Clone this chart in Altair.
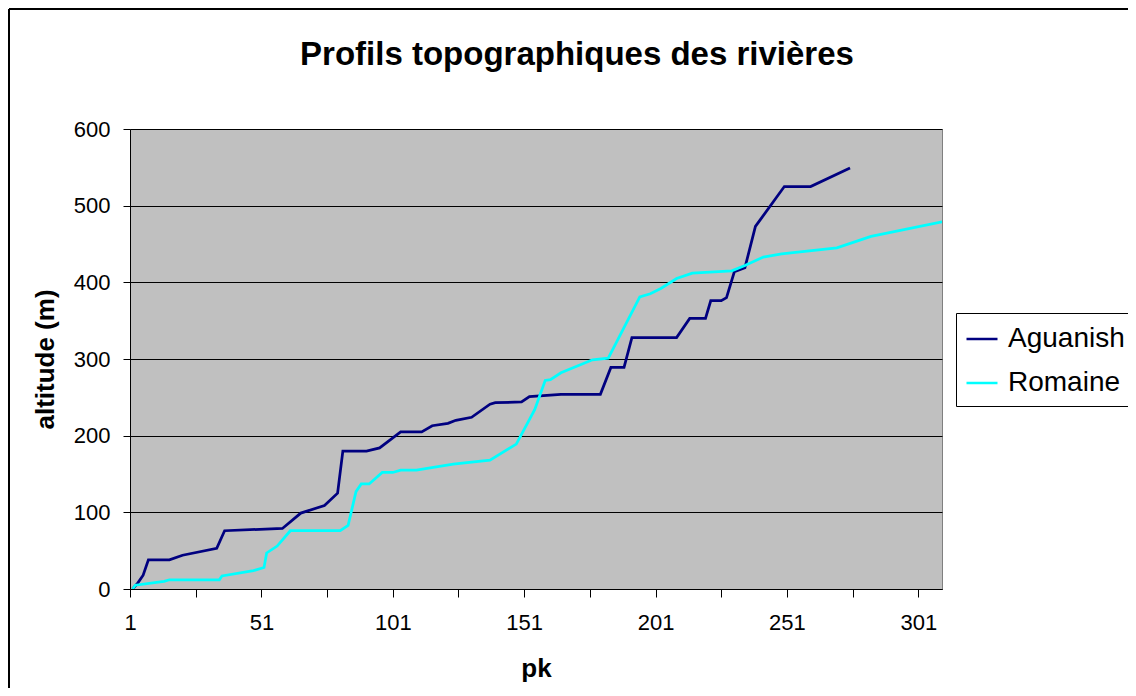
import altair as alt
import pandas as pd

# Aguanish profile (pk, altitude m)
ag_pk = [2, 4, 6, 8, 16, 21, 34, 37, 59, 66, 75, 80, 82, 91, 96, 104, 112, 116, 122, 125,
         131, 138, 140, 150, 153, 161, 165, 180, 184, 189, 192, 209, 214, 220, 222, 226,
         228, 231, 235, 239, 250, 260, 275]
ag_alt = [0, 8, 18, 38, 38, 44, 53, 76, 79, 99, 109, 125, 180, 180, 184, 205, 205, 213, 216, 220,
          224, 241, 243, 244, 251, 253, 254, 254, 289, 289, 328, 328, 353, 353, 376, 376,
          380, 414, 419, 473, 525, 525, 549]

# Romaine profile (pk, altitude m)
ro_pk = [2, 3, 14, 16, 35, 36, 48, 52, 53, 57, 62, 81, 84, 87, 89, 92, 97, 101, 104, 110,
         124, 138, 148, 155, 159, 161, 165, 177, 183, 195, 199, 203, 209, 215, 230, 235,
         242, 249, 270, 283, 310]
ro_alt = [0, 5, 10, 12, 12, 17, 24, 28, 47, 56, 76, 76, 83, 127, 137, 137, 152, 152, 155, 155,
          163, 168, 189, 234, 272, 273, 282, 299, 301, 381, 385, 392, 405, 412, 415, 422,
          433, 437, 445, 460, 479]

series_names = ["Aguanish", "Romaine"]
series_colors = ["#000080", "#00FFFF"]
x_ticks = [1, 26, 51, 76, 101, 126, 151, 176, 201, 226, 251, 276, 301]
y_ticks = [0, 100, 200, 300, 400, 500, 600]

df = pd.concat([
    pd.DataFrame({"pk": ag_pk, "alt": ag_alt, "riviere": "Aguanish", "ordre": range(len(ag_pk))}),
    pd.DataFrame({"pk": ro_pk, "alt": ro_alt, "riviere": "Romaine", "ordre": range(len(ro_pk))}),
])

W, H = 812, 460
FONT = "Liberation Sans"

lines = alt.Chart(df).mark_line(strokeWidth=2.75, clip=True).encode(
    x=alt.X("pk:Q",
            scale=alt.Scale(domain=[1, 310], nice=False, zero=False),
            axis=alt.Axis(values=x_ticks,
                          labelExpr="(datum.value - 1) % 50 == 0 ? datum.label : ''",
                          title="pk", grid=False, tickSize=8, labelPadding=15,
                          labelFontSize=22, titleFontSize=26, titleFontWeight="bold",
                          titleY=87, titleBaseline="alphabetic",
                          domainColor="#000000", tickColor="#000000",
                          labelColor="#000000", titleColor="#000000",
                          labelFlush=False)),
    y=alt.Y("alt:Q",
            scale=alt.Scale(domain=[0, 600], nice=False),
            axis=alt.Axis(values=y_ticks, title="altitude (m)", grid=True,
                          gridColor="#000000", gridWidth=1, gridOpacity=1,
                          tickSize=7, labelPadding=13, labelFontSize=22,
                          titleFontSize=26, titleFontWeight="bold",
                          titleX=-85, titleY=H / 2, titleBaseline="middle",
                          domainColor="#000000", tickColor="#000000",
                          labelColor="#000000", titleColor="#000000")),
    color=alt.Color("riviere:N",
                    scale=alt.Scale(domain=series_names, range=series_colors),
                    legend=alt.Legend(title=None, orient="none", legendX=826, legendY=184,
                                      strokeColor="#000000", padding=9,
                                      symbolType="stroke", symbolSize=961,
                                      symbolStrokeWidth=2.5, labelFontSize=28,
                                      labelOffset=9, rowPadding=13, labelLimit=400,
                                      labelColor="#000000")),
    order="ordre:Q",
)

frame_df = pd.DataFrame({"k": [0]})
frame_left = alt.Chart(frame_df).mark_rule(color="#000000", strokeWidth=2).encode(
    x=alt.value(-121), y=alt.value(-120), y2=alt.value(H + 120))
frame_top = alt.Chart(frame_df).mark_rule(color="#000000", strokeWidth=2).encode(
    x=alt.value(-121), x2=alt.value(W + 200), y=alt.value(-120))

chart = alt.layer(lines, frame_left, frame_top).properties(
    width=W, height=H,
    title=alt.TitleParams("Profils topographiques des rivières", fontSize=33,
                          fontWeight="bold", font=FONT, color="#000000",
                          anchor="middle", frame="group", dx=41, dy=90, offset=0,
                          baseline="alphabetic"),
    autosize=alt.AutoSizeParams(type="none"),
    padding={"left": 122, "top": 121, "right": 186, "bottom": 99},
).configure(font=FONT).configure_view(
    fill="#C0C0C0", stroke="#808080", strokeWidth=1
)

chart.save("out.html", embed_options={"renderer": "svg", "actions": False})
